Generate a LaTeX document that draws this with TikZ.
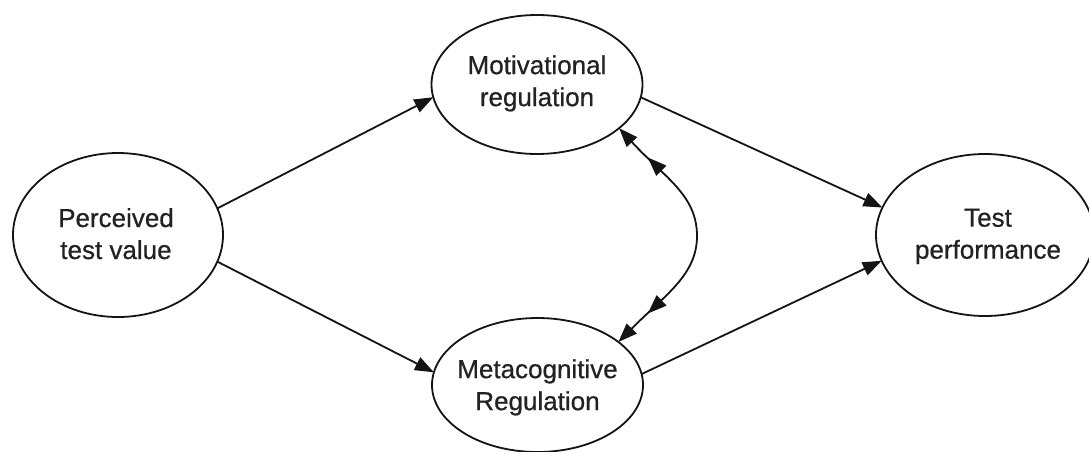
\documentclass[tikz,border=0pt]{standalone}
\usepackage{fontspec}
\setmainfont{Liberation Sans}
\newfontfamily\lblfont{Liberation Sans}[BoldFont=Liberation Sans, BoldFeatures={FakeBold=0.6}]
\usetikzlibrary{shapes.geometric,arrows.meta,decorations.markings}
\definecolor{linecol}{HTML}{141414}
\definecolor{textcol}{HTML}{222222}
\begin{document}
\begin{tikzpicture}[x=1pt,y=-1pt,
  ell/.style={draw=linecol, line width=1.8pt, ellipse, inner sep=0pt, outer sep=0pt},
  lbl/.style={align=center, text=textcol, font=\lblfont\bfseries\fontsize{26}{32}\selectfont, inner sep=0pt},
  tipa/.tip={Triangle[length=19pt,width=14pt]},
  conn/.style={draw=linecol, line width=1.8pt, -tipa},
  dbl/.style={draw=linecol, line width=1.8pt, tipa-tipa,
    postaction={decorate},
    decoration={markings,
      mark=at position 41pt with {\arrowreversed[linecol]{tipa}},
      mark=at position -41pt with {\arrow[linecol]{tipa}}}},
]
\useasboundingbox (0,0) rectangle (1089,451);
\fill[white] (0,0) rectangle (1089,451);

\node[ell, minimum width=210pt, minimum height=164pt] (P) at (118,235) {};
\node[ell, minimum width=211pt, minimum height=139pt] (M) at (537,84.5) {};
\node[ell, minimum width=211pt, minimum height=134pt] (G) at (537.5,385) {};
\node[ell, minimum width=218pt, minimum height=162pt] (T) at (985,235) {};

\node[lbl] (Ptext) at (116,233.7) {Perceived\\test value};
\node[lbl] (Mtext) at (537,83.4) {Motivational\\regulation};
\node[lbl] (Gtext) at (537.5,387.4) {Metacognitive\\Regulation};
\node[lbl] (Ttext) at (988,236.4) {Test\\performance};

\draw[conn] (P.15) -- (M.187);
\draw[conn] (P.-15) -- (G.173);
\draw[conn] (M.-7) -- (T.165);
\draw[conn] (G.6) -- (T.194);

\coordinate (bend) at (697,236);
\draw[dbl] (M.-28) .. controls (665,178) and (697,195) .. (bend)
  .. controls (697,275) and (665,295) .. (G.28);
\end{tikzpicture}
\end{document}
